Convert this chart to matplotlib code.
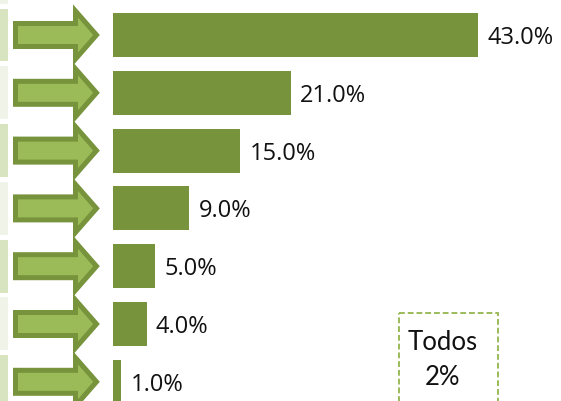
import matplotlib.pyplot as plt
import matplotlib.patches as mpatches

# data
values = [43.0, 21.0, 15.0, 9.0, 5.0, 4.0, 1.0]
labels = ['43.0%', '21.0%', '15.0%', '9.0%', '5.0%', '4.0%', '1.0%']
box_title = 'Todos'
box_value = '2%'

BAR = '#77933c'
ARROW_FILL = '#9bbb59'
ARROW_EDGE = '#77933c'
STRIPS = ['#d8e4c0', '#f0f4e8']

W, H = 561, 402
px_per_unit = 8.49     # pixels per percent
x0_px = 113            # pixel where the value 0 sits
row_px = 57.8          # pixels between rows
row0_px = 36           # pixel centre of first row

fig = plt.figure(figsize=(W / 100, H / 100), dpi=100)
ax = fig.add_axes([0, 0, 1, 1])
ax.set_xlim(-x0_px / px_per_unit, (W - x0_px) / px_per_unit)
ax.set_ylim((H - row0_px) / row_px, -row0_px / row_px)
ax.axis('off')


def px_x(p):
    return (p - x0_px) / px_per_unit


def px_h(p):
    return p / row_px


rows = list(range(len(values)))
ax.barh(rows, values, height=px_h(44), color=BAR, left=0)

for i, (v, lab) in enumerate(zip(values, labels)):
    ax.text(v + 9 / px_per_unit, i + px_h(2), lab, va='center', ha='left',
            fontsize=17, family='Open Sans', color='#111111')

# left strips and arrows
for i in range(-1, len(values)):
    ax.add_patch(mpatches.Rectangle((px_x(0), i - px_h(26.5)), px_x(8) - px_x(0), px_h(53),
                                    color=STRIPS[i % 2], lw=0))
for i in rows:
    arr = mpatches.FancyArrow(px_x(15.5), i, px_x(96.5) - px_x(15.5), 0,
                              width=px_h(23), head_width=px_h(48),
                              head_length=px_x(96.5) - px_x(75.5),
                              length_includes_head=True,
                              facecolor=ARROW_FILL, edgecolor=ARROW_EDGE,
                              lw=3.6, joinstyle='miter')
    ax.add_patch(arr)

# "Todos" box
ax.add_patch(mpatches.Rectangle((px_x(398.5), (314 - row0_px) / row_px),
                                px_x(497.5) - px_x(398.5), px_h(100),
                                fill=False, edgecolor=ARROW_FILL, lw=1.4,
                                linestyle=(0, (3, 1.5))))
ax.text(px_x(443), (343 - row0_px) / row_px, box_title, ha='center', va='center',
        fontsize=18.5, family='Lato', color='#111111')
ax.text(px_x(443), (378 - row0_px) / row_px, box_value, ha='center', va='center',
        fontsize=18.5, family='Lato', color='#111111')

fig.savefig('out.png', dpi=100)
